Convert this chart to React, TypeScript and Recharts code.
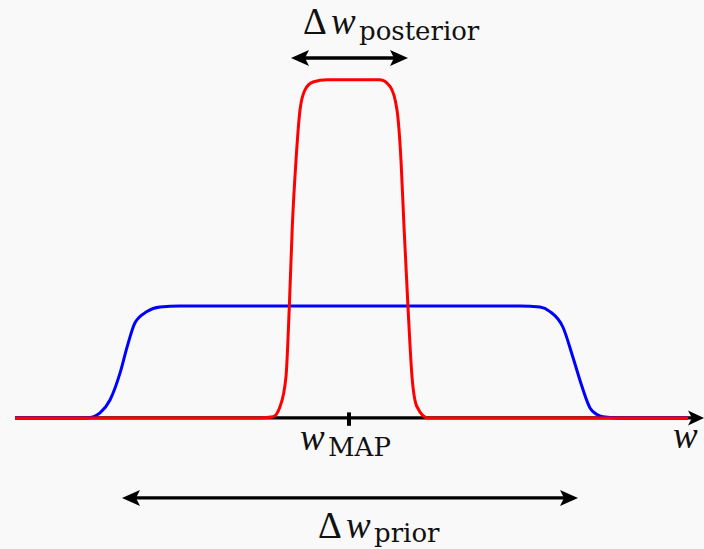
import { LineChart, Line, XAxis, YAxis, ReferenceLine, ReferenceDot } from 'recharts';

// prior p(w): broad flat-topped density
const priorW = [-3.34, -2.64, -2.56, -2.49, -2.39, -2.29, -2.22, -2.14, -2.02, -1.89, -1.69, 1.71, 1.91, 2.01, 2.14, 2.24, 2.33, 2.41, 2.48, 2.54, 2.68, 3.39];
const priorDensity = [0, 0, 0.01, 0.045, 0.16, 0.4, 0.63, 0.85, 0.95, 0.99, 1, 1, 0.99, 0.95, 0.81, 0.54, 0.28, 0.09, 0.03, 0.01, 0, 0];

// posterior p(w|D): narrow peak around w_MAP
const posteriorW = [-3.34, -0.89, -0.76, -0.69, -0.63, -0.597, -0.567, -0.53, -0.49, -0.44, -0.36, -0.22, 0.31, 0.41, 0.48, 0.52, 0.55, 0.59, 0.63, 0.68, 0.79, 3.39];
const posteriorDensity = [0, 0, 0.01, 0.1, 0.37, 0.99, 1.71, 2.3, 2.75, 2.93, 3.0, 3.02, 3.02, 2.96, 2.75, 2.3, 1.71, 0.99, 0.37, 0.1, 0, 0];

const wMap = 0;
const posteriorWidth = [-0.58, 0.59];
const priorWidth = [-2.27, 2.29];

const priorData = priorW.map((w, i) => ({ w, p: priorDensity[i] }));
const posteriorData = posteriorW.map((w, i) => ({ w, p: posteriorDensity[i] }));

const W = 704;
const H = 549;
const mathFont = '"Liberation Serif", "DejaVu Serif", serif';
const subFont = '"DejaVu Serif", "Liberation Serif", serif';

const head = (tx: number, ty: number, dir: number, len: number, half: number) => {
  const bx = tx - dir * len;
  const nx = tx - dir * (len - 4);
  return `M${tx},${ty} L${bx},${ty - half} L${nx},${ty} L${bx},${ty + half} Z`;
};

// horizontal arrow; both=false puts a head on the right end only
const arrow = (both: boolean, len = 18, half = 8) => (props: any) => {
  const { x1, y1, x2 } = props;
  const left = Math.min(x1, x2);
  const right = Math.max(x1, x2);
  const y = y1;
  return (
    <g>
      <line
        x1={both ? left + len - 4 : left}
        y1={y}
        x2={right - len + 4}
        y2={y}
        stroke="#000"
        strokeWidth={3.3}
      />
      {both && <path d={head(left, y, -1, len, half)} fill="#000" />}
      <path d={head(right, y, 1, len, half)} fill="#000" />
    </g>
  );
};

// math-style label: optional Δ, italic w, upright subscript
const label = (sub?: string, delta = false, subDrop = 6) => (props: any) => {
  const { cx, cy } = props;
  const wx = delta ? cx + 28 : cx;
  return (
    <text y={cy} fontFamily={mathFont} fontSize={37} fill="#111">
      {delta && <tspan x={cx}>Δ</tspan>}
      <tspan x={wx} fontStyle="italic">
        w
      </tspan>
      {sub && (
        <tspan x={wx + 28} y={cy + subDrop} fontFamily={subFont} fontSize={26}>
          {sub}
        </tspan>
      )}
    </text>
  );
};

export default function App() {
  return (
    <div style={{ position: 'fixed', left: 0, top: 0, width: W, height: H, background: '#f9f9f9' }}>
      <LineChart width={W} height={H} margin={{ top: 0, right: 0, bottom: 0, left: 0 }}>
        <XAxis type="number" dataKey="w" domain={[-3.49, 3.55]} hide allowDataOverflow />
        <YAxis type="number" domain={[-1.17, 3.732]} hide allowDataOverflow />
        <ReferenceLine
          segment={[{ x: -3.34, y: 0 }, { x: 3.55, y: 0 }]}
          shape={arrow(false, 16, 7.5)}
        />
        <ReferenceLine
          segment={[{ x: wMap, y: -0.07 }, { x: wMap, y: 0.05 }]}
          stroke="#000"
          strokeWidth={4}
        />
        <Line
          data={priorData}
          dataKey="p"
          type="monotone"
          stroke="#0000ff"
          strokeWidth={3}
          dot={false}
          activeDot={false}
          isAnimationActive={false}
        />
        <Line
          data={posteriorData}
          dataKey="p"
          type="monotone"
          stroke="#ff0000"
          strokeWidth={3}
          dot={false}
          activeDot={false}
          isAnimationActive={false}
        />
        <ReferenceLine
          segment={[{ x: posteriorWidth[0], y: 3.214 }, { x: posteriorWidth[1], y: 3.214 }]}
          shape={arrow(true)}
        />
        <ReferenceLine
          segment={[{ x: priorWidth[0], y: -0.714 }, { x: priorWidth[1], y: -0.714 }]}
          shape={arrow(true)}
        />
        <ReferenceDot x={-0.46} y={3.43} shape={label('posterior', true)} />
        <ReferenceDot x={-0.49} y={-0.286} shape={label('MAP')} />
        <ReferenceDot x={3.24} y={-0.27} shape={label()} />
        <ReferenceDot x={-0.31} y={-1.075} shape={label('prior', true, 4)} />
      </LineChart>
    </div>
  );
}
